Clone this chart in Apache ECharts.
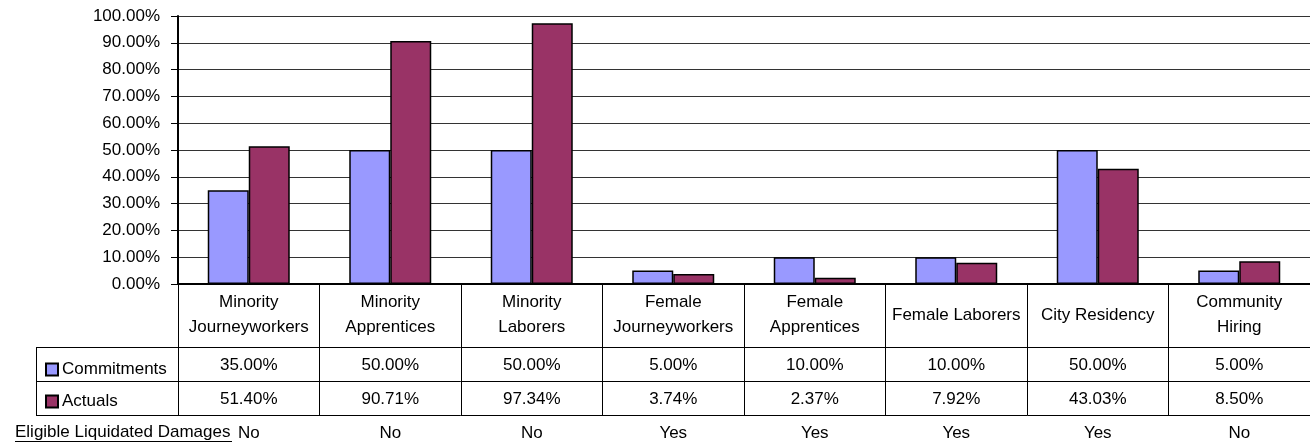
<!DOCTYPE html>
<html>
<head>
<meta charset="utf-8">
<script src="https://cdn.jsdelivr.net/npm/echarts@6/dist/echarts.min.js"></script>
<style>
  html, body { margin: 0; padding: 0; background: #fff; }
  #chart { width: 1310px; height: 444px; }
</style>
</head>
<body>
<div id="chart"></div>
<script>
// chart data
var categories = [
  'Minority\nJourneyworkers', 'Minority\nApprentices', 'Minority\nLaborers',
  'Female\nJourneyworkers', 'Female\nApprentices', 'Female Laborers',
  'City Residency', 'Community\nHiring'
];
var commitments = [35.00, 50.00, 50.00, 5.00, 10.00, 10.00, 50.00, 5.00];
var actuals = [51.40, 90.71, 97.34, 3.74, 2.37, 7.92, 43.03, 8.50];
var eligible = ['No', 'No', 'No', 'Yes', 'Yes', 'Yes', 'Yes', 'No'];
var eligibleTitle = 'Eligible Liquidated Damages';
var seriesNames = ['Commitments', 'Actuals'];

var font = 'Liberation Sans, Arial, sans-serif';
var txt = { color: '#000', fontFamily: font, fontSize: 17 };

function pct(v) {
  return v.toFixed(2) + '%';
}

// one table row drawn as an extra x axis under the plot
function rowAxis(offset, formatter) {
  return {
    type: 'category',
    gridIndex: 0,
    position: 'bottom',
    offset: offset,
    data: categories,
    axisLine: { show: true, lineStyle: { color: '#000', width: 1 } },
    axisTick: { show: false },
    splitLine: { show: false },
    axisLabel: Object.assign({
      interval: 0,
      margin: 18,
      verticalAlign: 'middle',
      formatter: formatter
    }, txt)
  };
}

var chart = echarts.init(document.getElementById('chart'));

chart.setOption({
  animation: false,
  grid: { left: 178, right: 0, top: 16, bottom: 160, containLabel: false },
  legend: {
    data: seriesNames,
    orient: 'vertical',
    left: 40,
    top: 356,
    itemWidth: 12,
    itemHeight: 12,
    itemGap: 15,
    icon: 'rect',
    textStyle: Object.assign({ lineHeight: 16, padding: [0, 0, 0, -1] }, txt)
  },
  xAxis: [
    {
      type: 'category',
      data: categories,
      boundaryGap: true,
      axisLine: { lineStyle: { color: '#000', width: 2 } },
      axisTick: {
        show: true,
        interval: 0,
        length: 131,
        lineStyle: { color: '#000', width: 1 }
      },
      axisLabel: Object.assign({
        interval: 0,
        margin: 31,
        lineHeight: 25,
        verticalAlign: 'middle'
      }, txt)
    },
    rowAxis(63, function (v, i) { return pct(commitments[i]); }),
    rowAxis(97, function (v, i) { return pct(actuals[i]); }),
    Object.assign(rowAxis(131, function (v, i) { return eligible[i]; }), {
      axisLine: { show: true, lineStyle: { color: '#000', width: 1 } }
    })
  ],
  yAxis: {
    type: 'value',
    min: 0,
    max: 100,
    interval: 10,
    axisLine: { show: true, lineStyle: { color: '#000', width: 2 } },
    axisTick: { show: true, length: 7, lineStyle: { color: '#000' } },
    splitLine: { lineStyle: { color: '#333', width: 1 } },
    axisLabel: Object.assign({
      margin: 18,
      formatter: function (v) { return pct(v); }
    }, txt)
  },
  series: [
    {
      name: seriesNames[0],
      type: 'bar',
      data: commitments,
      barWidth: 41,
      barGap: '0%',
      itemStyle: { color: '#9999FF', borderColor: '#000', borderWidth: 1.5 }
    },
    {
      name: seriesNames[1],
      type: 'bar',
      data: actuals,
      barWidth: 41,
      barGap: '0%',
      itemStyle: { color: '#993366', borderColor: '#000', borderWidth: 1.5 }
    }
  ],
  graphic: [
    // left part of the data table (legend cells)
    { type: 'line', shape: { x1: 36, y1: 347.5, x2: 178, y2: 347.5 }, style: { stroke: '#000', lineWidth: 1 } },
    { type: 'line', shape: { x1: 36, y1: 381.5, x2: 178, y2: 381.5 }, style: { stroke: '#000', lineWidth: 1 } },
    { type: 'line', shape: { x1: 36, y1: 415.5, x2: 178, y2: 415.5 }, style: { stroke: '#000', lineWidth: 1 } },
    { type: 'line', shape: { x1: 36.5, y1: 347, x2: 36.5, y2: 416 }, style: { stroke: '#000', lineWidth: 1 } },
    // row title, underlined
    {
      type: 'text',
      left: 15,
      top: 424,
      style: { text: eligibleTitle, fill: '#000', font: '17px ' + font }
    },
    { type: 'line', shape: { x1: 15, y1: 441.5, x2: 232, y2: 441.5 }, style: { stroke: '#000', lineWidth: 1 } }
  ]
});
</script>
</body>
</html>
